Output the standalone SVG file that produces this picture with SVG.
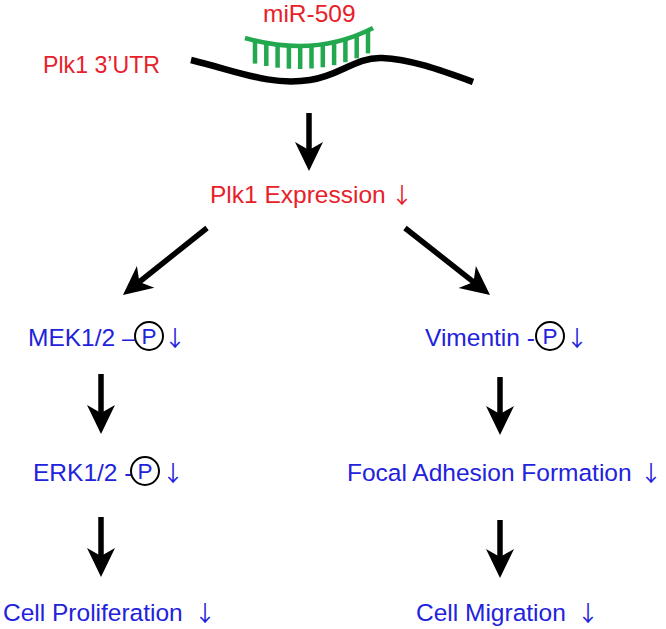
<svg xmlns="http://www.w3.org/2000/svg" width="666" height="629" viewBox="0 0 666 629">
<style>
text{font-family:"Liberation Sans","Noto Sans CJK SC",sans-serif;font-size:24.5px}
.red{fill:#e8202a}
.blue{fill:#2222dd}
.arr{font-family:"Noto Sans CJK SC","Noto Sans CJK JP",sans-serif;font-size:22px}
.pp{font-size:22.5px}
.conn{stroke:#000;stroke-width:5.5;fill:none;marker-end:url(#ah)}
.circ{fill:none;stroke:#000;stroke-width:2}
.tooth{stroke:#22a84e;stroke-width:4.5}
</style>
<defs>
<marker id="ah" markerUnits="userSpaceOnUse" markerWidth="40" markerHeight="40" refX="0" refY="0" orient="auto" overflow="visible">
<path d="M20,0 L-9,-14 L-1,0 L-9,14 Z" fill="#000"/>
</marker>
</defs>
<rect width="666" height="629" fill="#fff"/>

<g id="mrna">
<path d="M191,60 C240,72 270,86 310,80 C340,76 355,57 382,58 C410,59 440,70 473,82" fill="none" stroke="#000" stroke-width="6.5"/>
<text class="red" x="43" y="73" textLength="117" lengthAdjust="spacingAndGlyphs">Plk1 3’UTR</text>
</g>

<g id="mirna">
<text class="red" x="263" y="22">miR-509</text>
<path d="M245,38 Q315,58 373,28" fill="none" stroke="#22a84e" stroke-width="4.5"/>
<line class="tooth" x1="255" y1="40.6" x2="255" y2="63.6"/>
<line class="tooth" x1="266.3" y1="43" x2="266.3" y2="66"/>
<line class="tooth" x1="277.6" y1="44.7" x2="277.6" y2="67.7"/>
<line class="tooth" x1="288.9" y1="45.7" x2="288.9" y2="68.7"/>
<line class="tooth" x1="300.2" y1="46" x2="300.2" y2="69"/>
<line class="tooth" x1="311.5" y1="45.5" x2="311.5" y2="68.5"/>
<line class="tooth" x1="322.8" y1="44.3" x2="322.8" y2="67.3"/>
<line class="tooth" x1="334.1" y1="42.2" x2="334.1" y2="65.2"/>
<line class="tooth" x1="345.4" y1="39.2" x2="345.4" y2="62.2"/>
<line class="tooth" x1="356.7" y1="35.3" x2="356.7" y2="58.3"/>
<line class="tooth" x1="368" y1="30.4" x2="368" y2="53.4"/>
</g>

<g id="plk1">
<text class="red" x="210" y="203">Plk1 Expression <tspan class="arr" x="391">↓</tspan></text>
</g>

<g id="mek">
<text class="blue" x="28" y="346">MEK1/2 –</text>
<circle class="circ" cx="149" cy="336" r="14"/>
<text class="blue pp" x="149" y="344" text-anchor="middle">P</text>
<text class="blue arr" x="164" y="346">↓</text>
</g>

<g id="vimentin">
<text class="blue" x="425" y="346">Vimentin -</text>
<circle class="circ" cx="550" cy="336" r="14"/>
<text class="blue pp" x="550" y="344" text-anchor="middle">P</text>
<text class="blue arr" x="566" y="346">↓</text>
</g>

<g id="erk">
<text class="blue" x="33" y="481">ERK1/2 -</text>
<circle class="circ" cx="145" cy="471" r="14"/>
<text class="blue pp" x="145" y="479" text-anchor="middle">P</text>
<text class="blue arr" x="162" y="481">↓</text>
</g>

<g id="focal">
<text class="blue" x="347" y="481">Focal Adhesion Formation <tspan class="arr" x="640">↓</tspan></text>
</g>

<g id="proliferation">
<text class="blue" x="3" y="621">Cell Proliferation <tspan class="arr" x="194">↓</tspan></text>
</g>

<g id="migration">
<text class="blue" x="416" y="621">Cell Migration <tspan class="arr" x="577">↓</tspan></text>
</g>

<g id="connectors">
<line class="conn" x1="309" y1="113" x2="309" y2="151"/>
<line class="conn" x1="207" y1="228" x2="138.6" y2="282.5"/>
<line class="conn" x1="405" y1="228" x2="474.3" y2="282.6"/>
<line class="conn" x1="101" y1="374" x2="101" y2="414"/>
<line class="conn" x1="500" y1="377" x2="500" y2="415"/>
<line class="conn" x1="101" y1="517" x2="101" y2="557"/>
<line class="conn" x1="500" y1="520" x2="500" y2="558"/>
</g>
</svg>
